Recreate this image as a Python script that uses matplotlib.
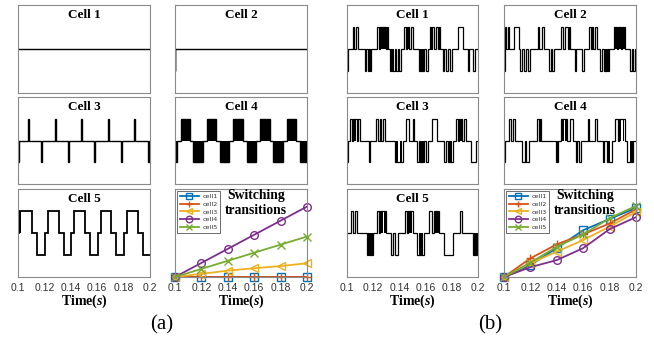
import matplotlib
matplotlib.use('Agg')
import matplotlib.pyplot as plt

plt.rcParams['mathtext.fontset'] = 'custom'
plt.rcParams['mathtext.bfit'] = 'Liberation Serif:italic:bold'
plt.rcParams['mathtext.rm'] = 'Liberation Serif'

# ---------------- data ----------------
tick_vals = [0.1, 0.12, 0.14, 0.16, 0.18, 0.2]
tick_labels = ['0.1', '0.12', '0.14', '0.16', '0.18', '0.2']
cell_names = ['cell1', 'cell2', 'cell3', 'cell4', 'cell5']

# switching transitions (arbitrary units)
sw_time = [0.1, 0.12, 0.14, 0.16, 0.18, 0.2]
sw_a_cell1 = [0, 0, 0, 0, 0, 0]
sw_a_cell2 = [0, 0, 0, 0, 0, 0]
sw_a_cell3 = [0, 9, 18, 25, 31, 39]
sw_a_cell4 = [0, 40, 80, 120, 160, 200]
sw_a_cell5 = [0, 23, 46, 69, 92, 115]

sw_b_cell1 = [0, 34, 82, 133, 165, 196]
sw_b_cell2 = [0, 53, 93, 121, 152, 192]
sw_b_cell3 = [0, 39, 72, 105, 143, 185]
sw_b_cell4 = [0, 28, 48, 82, 136, 170]
sw_b_cell5 = [0, 41, 86, 121, 167, 202]

# cell voltage waveforms: pulses (t_start, t_end, level); dense = densely switched bands
a1_pulses = []
a1_dense = []
a2_pulses = [(0.1000, 0.1003, -1)]
a2_dense = []
a3_pulses = [(0.1000, 0.1004, -1), (0.1079, 0.1087, 1), (0.1176, 0.1184, -1),
             (0.1278, 0.1286, 1), (0.1379, 0.1387, -1), (0.1476, 0.1484, 1),
             (0.1579, 0.1587, -1), (0.1680, 0.1688, 1), (0.1782, 0.1790, -1),
             (0.1882, 0.1890, 1), (0.1983, 0.1991, -1)]
a3_dense = []
a4_pulses = [(0.1000, 0.1015, -1), (0.1046, 0.1110, 1), (0.1140, 0.1211, -1),
             (0.1241, 0.1312, 1), (0.1342, 0.1412, -1), (0.1443, 0.1514, 1),
             (0.1544, 0.1615, -1), (0.1645, 0.1716, 1), (0.1746, 0.1817, -1),
             (0.1847, 0.1918, 1), (0.1948, 0.2000, -1)]
a4_dense = a4_pulses
a5_steps_t = [0.1000, 0.1005, 0.1020, 0.1108, 0.1145, 0.1205, 0.1228, 0.1308, 0.1345,
              0.1405, 0.1428, 0.1508, 0.1545, 0.1605, 0.1628, 0.1708, 0.1745, 0.1805,
              0.1828, 0.1908, 0.1945, 0.2000]
a5_steps_v = [0, 1, 1, 0, -1, 0, 1, 0, -1, 0, 1, 0, -1, 0, 1, 0, -1, 0, 1, 0, -1, -1]
a5_dense = [(0.1005, 0.1020, 1)]

b1_pulses = [(0.1000, 0.1008, -1), (0.1048, 0.1056, 1), (0.1066, 0.1081, 1),
             (0.1137, 0.1147, -1), (0.1157, 0.1167, -1), (0.1174, 0.1187, -1),
             (0.1230, 0.1245, 1), (0.1250, 0.1301, 1), (0.1306, 0.1316, 1),
             (0.1326, 0.1339, -1), (0.1346, 0.1364, -1), (0.1376, 0.1389, -1), (0.1397, 0.1409, -1),
             (0.1434, 0.1447, 1), (0.1455, 0.1477, 1), (0.1490, 0.1505, 1),
             (0.1546, 0.1591, -1), (0.1601, 0.1616, -1),
             (0.1631, 0.1642, 1), (0.1652, 0.1667, 1), (0.1679, 0.1692, 1), (0.1700, 0.1710, 1),
             (0.1730, 0.1743, -1), (0.1755, 0.1773, -1), (0.1788, 0.1798, -1),
             (0.1851, 0.1889, 1),
             (0.1924, 0.1934, -1), (0.1960, 0.1975, -1)]
b1_dense = [(0.1255, 0.1296, 1), (0.1348, 0.1362, -1), (0.1457, 0.1475, 1),
            (0.1550, 0.1587, -1)]

b2_pulses = [(0.1000, 0.1008, -1), (0.1010, 0.1018, 1), (0.1028, 0.1036, 1), (0.1078, 0.1111, 1),
             (0.1124, 0.1137, -1), (0.1149, 0.1167, -1), (0.1182, 0.1200, -1),
             (0.1258, 0.1268, 1), (0.1288, 0.1301, 1),
             (0.1339, 0.1359, -1), (0.1364, 0.1376, -1),
             (0.1434, 0.1447, 1), (0.1465, 0.1482, 1), (0.1490, 0.1503, 1),
             (0.1536, 0.1548, -1), (0.1591, 0.1604, -1),
             (0.1647, 0.1657, 1), (0.1667, 0.1677, 1), (0.1692, 0.1702, 1),
             (0.1730, 0.1743, -1), (0.1755, 0.1780, -1), (0.1788, 0.1798, -1),
             (0.1831, 0.1856, 1), (0.1866, 0.1890, 1), (0.1895, 0.1919, 1),
             (0.1957, 0.1970, -1), (0.1977, 0.1990, -1)]
b2_dense = [(0.1000, 0.1008, -1), (0.1758, 0.1777, -1), (0.1834, 0.1853, 1),
            (0.1869, 0.1887, 1), (0.1898, 0.1916, 1)]

b3_pulses = [(0.1000, 0.1008, -1), (0.1023, 0.1036, 1), (0.1046, 0.1073, 1), (0.1086, 0.1099, 1),
             (0.1167, 0.1177, -1),
             (0.1225, 0.1238, 1), (0.1250, 0.1263, 1), (0.1275, 0.1293, 1),
             (0.1364, 0.1427, -1),
             (0.1452, 0.1477, 1), (0.1503, 0.1515, 1),
             (0.1536, 0.1546, -1), (0.1561, 0.1591, -1), (0.1604, 0.1616, -1),
             (0.1647, 0.1687, 1),
             (0.1743, 0.1755, -1), (0.1768, 0.1806, -1),
             (0.1831, 0.1844, 1), (0.1856, 0.1881, 1), (0.1894, 0.1909, 1),
             (0.1945, 0.1982, -1)]
b3_dense = [(0.1050, 0.1069, 1), (0.1370, 0.1390, -1), (0.1405, 0.1422, -1),
            (0.1565, 0.1587, -1), (0.1775, 0.1800, -1), (0.1860, 0.1877, 1)]

b4_pulses = [(0.1000, 0.1008, -1), (0.1041, 0.1051, 1), (0.1066, 0.1081, 1),
             (0.1137, 0.1162, -1), (0.1167, 0.1187, -1),
             (0.1250, 0.1263, 1), (0.1270, 0.1283, 1),
             (0.1394, 0.1409, -1),
             (0.1434, 0.1480, 1), (0.1503, 0.1520, 1),
             (0.1546, 0.1556, -1), (0.1571, 0.1581, -1),
             (0.1637, 0.1642, 1), (0.1692, 0.1702, 1),
             (0.1748, 0.1758, -1), (0.1780, 0.1818, -1),
             (0.1838, 0.1864, 1), (0.1869, 0.1914, 1),
             (0.1932, 0.1975, -1)]
b4_dense = [(0.1068, 0.1079, 1), (0.1396, 0.1407, -1), (0.1438, 0.1452, 1), (0.1462, 0.1476, 1),
            (0.1785, 0.1800, -1), (0.1875, 0.1890, 1), (0.1900, 0.1912, 1), (0.1955, 0.1975, -1)]

b5_pulses = [(0.1028, 0.1048, 1), (0.1061, 0.1076, 1),
             (0.1149, 0.1162, -1), (0.1167, 0.1200, -1),
             (0.1230, 0.1243, 1), (0.1250, 0.1301, 1),
             (0.1339, 0.1351, -1), (0.1364, 0.1389, -1),
             (0.1440, 0.1455, 1), (0.1465, 0.1503, 1),
             (0.1536, 0.1591, -1),
             (0.1629, 0.1650, 1), (0.1662, 0.1705, 1),
             (0.1743, 0.1806, -1),
             (0.1864, 0.1881, 1),
             (0.1965, 0.1990, -1)]
b5_dense = [(0.1172, 0.1196, -1), (0.1255, 0.1275, 1), (0.1283, 0.1298, 1), (0.1470, 0.1498, 1),
            (0.1548, 0.1578, -1), (0.1668, 0.1700, 1), (0.1968, 0.1990, -1)]

# ---------------- helpers ----------------
W, H = 654, 340
fig = plt.figure(figsize=(W / 100, H / 100), dpi=100)
fig.patch.set_facecolor('white')

FRAME = '#8a8a8a'
SERIF = 'Liberation Serif'
SANS = 'Liberation Sans'
colors = ['#0072BD', '#D95319', '#EDB120', '#7E2F8E', '#77AC30']
markers = ['s', '+', '<', 'o', 'x']


def add_ax(x, y, w, h):
    return fig.add_axes([x / W, 1 - (y + h) / H, w / W, h / H])


def steps_from_pulses(pulses):
    xs, ys = [0.1], [0]
    for a, b, lv in sorted(pulses):
        xs += [a, a, b, b]
        ys += [0, lv, lv, 0]
    xs.append(0.2)
    ys.append(0)
    return xs, ys


def style(ax, show_x):
    for s in ax.spines.values():
        s.set_color(FRAME)
        s.set_linewidth(0.8)
    ax.set_xlim(0.1, 0.2)
    ax.set_yticks([])
    ax.tick_params(axis='x', length=0, pad=4, labelsize=7.5, labelcolor='#333333')
    if show_x:
        ax.set_xticks(tick_vals)
        ax.set_xticklabels(tick_labels, fontfamily=SANS)
        ax.set_xlabel(r'Time($\mathbfit{s}$)', fontfamily=SERIF, fontweight='bold',
                      fontsize=10, labelpad=0)
    else:
        ax.set_xticks([])


def title(ax, txt, h):
    ax.text(0.5, 1 - 10 / h, txt, transform=ax.transAxes, ha='center', va='center',
            fontfamily=SERIF, fontweight='bold', fontsize=9.5)


def signal_ax(x, y, w, h, name, pulses=None, dense=(), steps=None, show_x=False, lw=1.0):
    ax = add_ax(x, y, w, h)
    if steps is not None:
        xs, ys = [], []
        for i in range(len(steps[0]) - 1):
            xs += [steps[0][i], steps[0][i + 1]]
            ys += [steps[1][i], steps[1][i]]
    else:
        xs, ys = steps_from_pulses(pulses)
    ax.plot(xs, ys, color='black', lw=lw, solid_joinstyle='miter')
    for a, b, lv in dense:
        ax.fill_between([a, b], [0, 0], [lv, lv], color='black', lw=0)
    ax.set_ylim(-2, 2)
    style(ax, show_x)
    title(ax, name, h)
    return ax


def switch_ax(x, y, w, h, series):
    ax = add_ax(x, y, w, h)
    for i, vals in enumerate(series):
        ax.plot(sw_time, vals, color=colors[i], marker=markers[i], markersize=5.5,
                markerfacecolor='none', markeredgewidth=1.0, lw=1.3, label=cell_names[i],
                clip_on=False)
    ax.set_ylim(0, 250)
    style(ax, True)
    leg = ax.legend(loc='upper left', fontsize=4.6, handlelength=3.0, borderpad=0.45,
                    labelspacing=0.35, fancybox=False, edgecolor='#555555',
                    borderaxespad=0.3, handletextpad=0.5, numpoints=1, framealpha=1,
                    markerscale=0.85)
    leg.get_frame().set_linewidth(0.6)
    leg.set_zorder(5)
    for t in leg.get_texts():
        t.set_color('#333333')
    ax.text(0.615, 0.84, 'Switching\ntransitions', transform=ax.transAxes, ha='center',
            va='center', fontfamily=SERIF, fontweight='bold', fontsize=9.8, linespacing=1.12,
            zorder=6)
    return ax


# ---------------- panel (a) ----------------
signal_ax(18, 5, 132, 88, 'Cell 1', pulses=a1_pulses, dense=a1_dense)
signal_ax(175, 5, 132, 88, 'Cell 2', pulses=a2_pulses, dense=a2_dense)
signal_ax(18, 97, 132, 87, 'Cell 3', pulses=a3_pulses, dense=a3_dense)
signal_ax(175, 97, 132, 87, 'Cell 4', pulses=a4_pulses, dense=a4_dense)
signal_ax(18, 189, 132, 88, 'Cell 5', steps=(a5_steps_t, a5_steps_v), dense=a5_dense,
          show_x=True, lw=1.3)
switch_ax(175, 189, 132, 88, [sw_a_cell1, sw_a_cell2, sw_a_cell3, sw_a_cell4, sw_a_cell5])

# ---------------- panel (b) ----------------
signal_ax(347, 5, 131, 88, 'Cell 1', pulses=b1_pulses, dense=b1_dense, lw=0.9)
signal_ax(504, 5, 132, 88, 'Cell 2', pulses=b2_pulses, dense=b2_dense, lw=0.9)
signal_ax(347, 97, 131, 87, 'Cell 3', pulses=b3_pulses, dense=b3_dense, lw=0.9)
signal_ax(504, 97, 132, 87, 'Cell 4', pulses=b4_pulses, dense=b4_dense, lw=0.9)
signal_ax(347, 189, 131, 88, 'Cell 5', pulses=b5_pulses, dense=b5_dense, show_x=True, lw=0.9)
switch_ax(504, 189, 132, 88, [sw_b_cell1, sw_b_cell2, sw_b_cell3, sw_b_cell4, sw_b_cell5])

fig.text(162 / W, 1 - 325 / H, '(a)', ha='center', va='center', fontfamily=SERIF, fontsize=15)
fig.text(490 / W, 1 - 325 / H, '(b)', ha='center', va='center', fontfamily=SERIF, fontsize=15)

fig.savefig('out.png', dpi=100, facecolor='white')
